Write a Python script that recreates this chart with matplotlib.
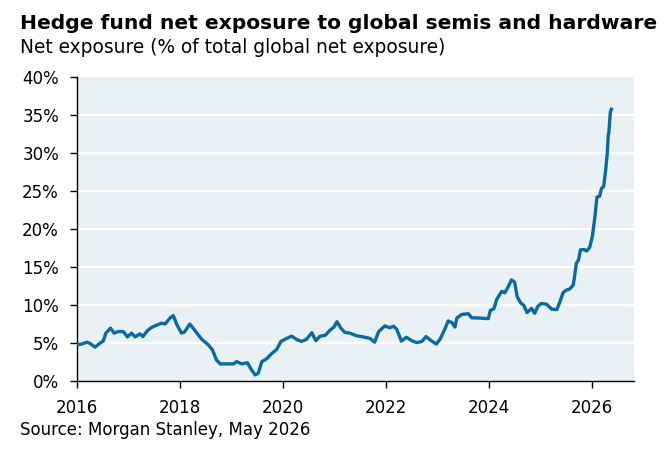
import matplotlib
matplotlib.use("Agg")
import matplotlib.pyplot as plt
from matplotlib.ticker import FuncFormatter

plt.rcParams['font.family'] = ['DejaVu Sans']

# decimal years
dates = [2016.00, 2016.09, 2016.19, 2016.25, 2016.35, 2016.45, 2016.51, 2016.56, 2016.65, 2016.72,
         2016.80, 2016.90, 2016.98, 2017.06, 2017.13, 2017.22, 2017.28, 2017.37, 2017.45, 2017.55,
         2017.64, 2017.71, 2017.81, 2017.87, 2017.94, 2018.03, 2018.09, 2018.19, 2018.29, 2018.42,
         2018.55, 2018.63, 2018.71, 2018.78, 2018.91, 2019.04, 2019.10, 2019.20, 2019.31, 2019.39,
         2019.46, 2019.52, 2019.59, 2019.68, 2019.78, 2019.88, 2019.96, 2020.07, 2020.17, 2020.27,
         2020.36, 2020.46, 2020.56, 2020.64, 2020.72, 2020.82, 2020.91, 2020.99, 2021.05, 2021.12,
         2021.20, 2021.30, 2021.43, 2021.56, 2021.69, 2021.78, 2021.86, 2021.98, 2022.07, 2022.15,
         2022.21, 2022.30, 2022.40, 2022.50, 2022.60, 2022.70, 2022.78, 2022.86, 2022.98, 2023.06,
         2023.15, 2023.21, 2023.28, 2023.34, 2023.38, 2023.47, 2023.60, 2023.67, 2023.77, 2023.88,
         2023.99, 2024.03, 2024.10, 2024.15, 2024.25, 2024.31, 2024.38, 2024.44, 2024.50, 2024.55,
         2024.62, 2024.68, 2024.74, 2024.83, 2024.89, 2024.95, 2025.02, 2025.12, 2025.22, 2025.32,
         2025.38, 2025.44, 2025.50, 2025.57, 2025.64, 2025.67, 2025.70, 2025.74, 2025.78, 2025.85,
         2025.90, 2025.96, 2026.01, 2026.06, 2026.10, 2026.15, 2026.19, 2026.23, 2026.27, 2026.30,
         2026.32, 2026.33, 2026.36, 2026.38]

# net exposure, %
exposure = [4.8, 4.85, 5.1, 4.95, 4.45, 5.0, 5.25, 6.3, 6.95, 6.3,
            6.5, 6.5, 5.8, 6.3, 5.8, 6.2, 5.85, 6.65, 7.05, 7.35,
            7.6, 7.5, 8.3, 8.6, 7.4, 6.3, 6.45, 7.5, 6.65, 5.5,
            4.75, 4.1, 2.75, 2.25, 2.25, 2.25, 2.55, 2.25, 2.4, 1.45,
            0.8, 1.0, 2.55, 2.9, 3.6, 4.15, 5.2, 5.6, 5.9, 5.45,
            5.2, 5.5, 6.35, 5.3, 5.9, 6.0, 6.65, 7.1, 7.8, 7.0,
            6.4, 6.3, 5.95, 5.8, 5.6, 5.1, 6.5, 7.25, 7.0, 7.2,
            6.8, 5.25, 5.75, 5.3, 5.05, 5.2, 5.85, 5.4, 4.85, 5.6,
            6.9, 7.9, 7.7, 7.1, 8.3, 8.75, 8.85, 8.3, 8.3, 8.25,
            8.2, 9.3, 9.5, 10.7, 11.8, 11.6, 12.45, 13.3, 13.0, 11.1,
            10.25, 9.95, 9.0, 9.55, 8.9, 9.8, 10.2, 10.1, 9.45, 9.4,
            10.4, 11.6, 11.95, 12.1, 12.65, 14.0, 15.5, 15.9, 17.25, 17.3,
            17.1, 17.6, 19.0, 21.6, 24.2, 24.3, 25.35, 25.6, 27.8, 30.0,
            32.4, 32.6, 35.4, 35.75]

xticks = [2016, 2018, 2020, 2022, 2024, 2026]
yticks = [0, 5, 10, 15, 20, 25, 30, 35, 40]

fig = plt.figure(figsize=(6.71, 4.53), dpi=100)
ax = fig.add_axes([0.1148, 0.159, 0.8301, 0.671])
ax.set_facecolor('#EAF1F5')

# white horizontal grid
for y in yticks[1:-1]:
    ax.axhline(y, color='white', lw=1.6, zorder=1)

ax.plot(dates, exposure, color='#0A6AA1', lw=2.4, zorder=3, solid_joinstyle='round')

ax.set_xlim(2016, 2026.82)
ax.set_ylim(0, 40)
ax.set_xticks(xticks)
ax.set_yticks(yticks)
ax.yaxis.set_major_formatter(FuncFormatter(lambda v, p: f"{v:.0f}%"))

for s in ['top', 'right']:
    ax.spines[s].set_visible(False)
for s in ['left', 'bottom']:
    ax.spines[s].set_color('black')
    ax.spines[s].set_linewidth(1.0)

ax.tick_params(axis='y', length=5, width=1, pad=8, labelsize=12, colors='black')
ax.tick_params(axis='x', length=5, width=1, pad=8, labelsize=12, colors='black')

fig.text(0.030, 1 - 29.3 / 453, "Hedge fund net exposure to global semis and hardware",
         fontsize=14.6, fontweight='bold', va='baseline', ha='left')
fig.text(0.030, 1 - 53.3 / 453, "Net exposure (% of total global net exposure)",
         fontsize=13.4, va='baseline', ha='left')
fig.text(0.030, 1 - 435 / 453, "Source: Morgan Stanley, May 2026",
         fontsize=12, va='baseline', ha='left')

fig.savefig('out.png', dpi=100)
